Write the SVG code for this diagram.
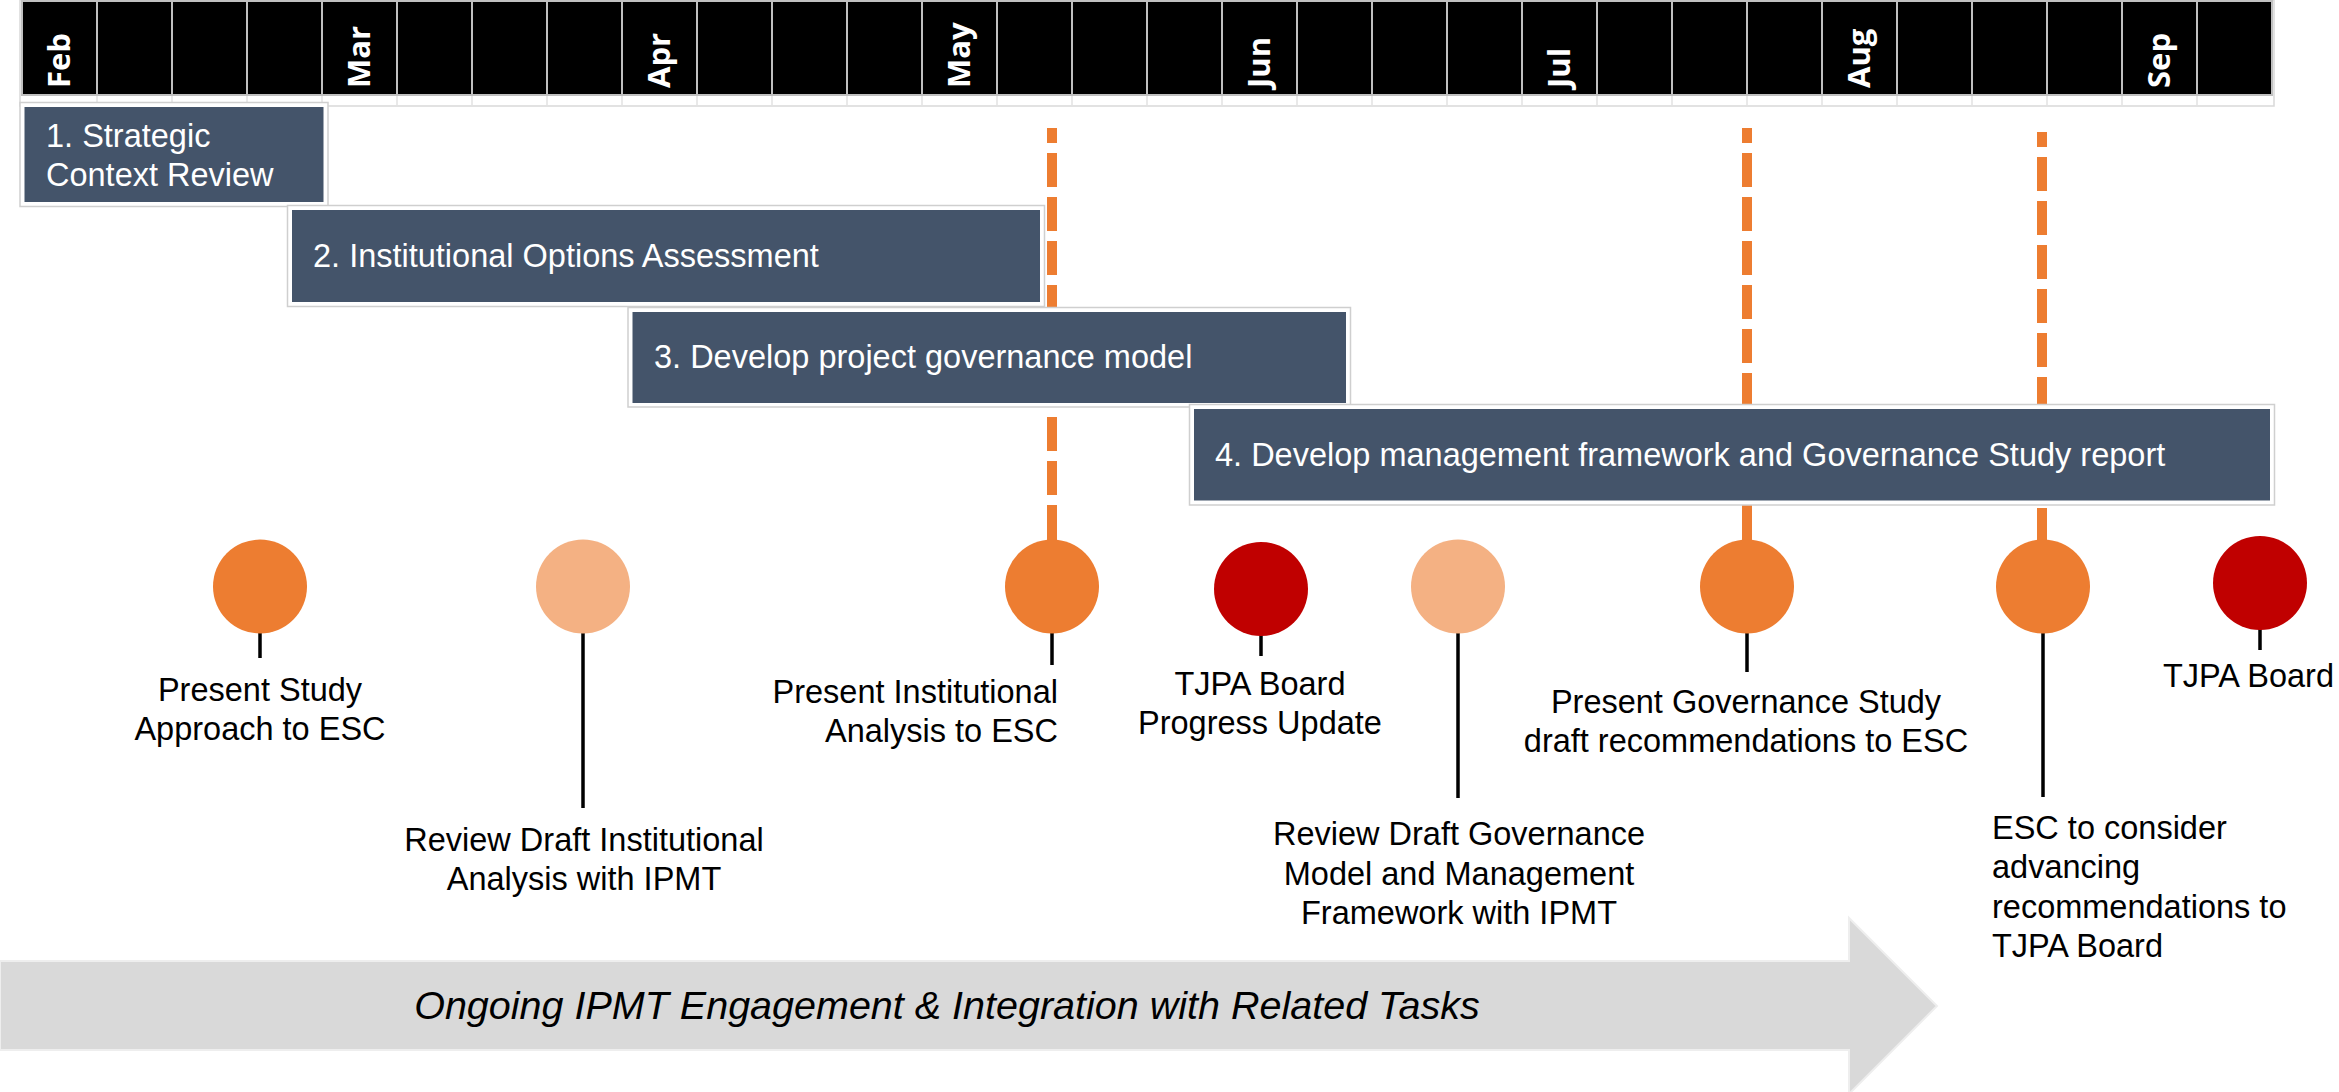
<svg xmlns="http://www.w3.org/2000/svg" width="2339" height="1092" viewBox="0 0 2339 1092">
  <style>
    .cell { fill: #000000; stroke: #c0c0c0; stroke-width: 2; }
    .tick { stroke: #e2e2e2; stroke-width: 1.5; }
    .month { font-family: "Open Sans", "DejaVu Sans", sans-serif; font-weight: bold; font-size: 31px; fill: #ffffff; }
    .frame { fill: #ffffff; stroke: #cfcfcf; stroke-width: 1.5; }
    .bar { fill: #44546a; }
    .bartext { font-family: "Liberation Sans", Arial, sans-serif; font-size: 32.5px; fill: #ffffff; }
    .label { font-family: "Liberation Sans", Arial, sans-serif; font-size: 32.5px; fill: #000000; }
    .stem { stroke: #000000; stroke-width: 3.5; }
    .dash { stroke: #ed7d31; stroke-width: 10; fill: none; stroke-dasharray: 34 10; stroke-dashoffset: 19; }
    .solid { stroke: #ed7d31; stroke-width: 10; }
    .orange { fill: #ed7d31; }
    .light { fill: #f4b183; }
    .red { fill: #c00000; }
  </style>

  <!-- header timeline -->
  <g id="header">
    <rect x="20" y="0" width="2254" height="106" fill="#ffffff" stroke="#d9d9d9" stroke-width="1.5"/>
    <g id="cells">
      <rect class="cell" x="22" y="1" width="75" height="94"/>
      <rect class="cell" x="97" y="1" width="75" height="94"/>
      <rect class="cell" x="172" y="1" width="75" height="94"/>
      <rect class="cell" x="247" y="1" width="75" height="94"/>
      <rect class="cell" x="322" y="1" width="75" height="94"/>
      <rect class="cell" x="397" y="1" width="75" height="94"/>
      <rect class="cell" x="472" y="1" width="75" height="94"/>
      <rect class="cell" x="547" y="1" width="75" height="94"/>
      <rect class="cell" x="622" y="1" width="75" height="94"/>
      <rect class="cell" x="697" y="1" width="75" height="94"/>
      <rect class="cell" x="772" y="1" width="75" height="94"/>
      <rect class="cell" x="847" y="1" width="75" height="94"/>
      <rect class="cell" x="922" y="1" width="75" height="94"/>
      <rect class="cell" x="997" y="1" width="75" height="94"/>
      <rect class="cell" x="1072" y="1" width="75" height="94"/>
      <rect class="cell" x="1147" y="1" width="75" height="94"/>
      <rect class="cell" x="1222" y="1" width="75" height="94"/>
      <rect class="cell" x="1297" y="1" width="75" height="94"/>
      <rect class="cell" x="1372" y="1" width="75" height="94"/>
      <rect class="cell" x="1447" y="1" width="75" height="94"/>
      <rect class="cell" x="1522" y="1" width="75" height="94"/>
      <rect class="cell" x="1597" y="1" width="75" height="94"/>
      <rect class="cell" x="1672" y="1" width="75" height="94"/>
      <rect class="cell" x="1747" y="1" width="75" height="94"/>
      <rect class="cell" x="1822" y="1" width="75" height="94"/>
      <rect class="cell" x="1897" y="1" width="75" height="94"/>
      <rect class="cell" x="1972" y="1" width="75" height="94"/>
      <rect class="cell" x="2047" y="1" width="75" height="94"/>
      <rect class="cell" x="2122" y="1" width="75" height="94"/>
      <rect class="cell" x="2197" y="1" width="75" height="94"/>
    </g>
    <g id="ticks">
      <line class="tick" x1="97" y1="96" x2="97" y2="106"/>
      <line class="tick" x1="172" y1="96" x2="172" y2="106"/>
      <line class="tick" x1="247" y1="96" x2="247" y2="106"/>
      <line class="tick" x1="322" y1="96" x2="322" y2="106"/>
      <line class="tick" x1="397" y1="96" x2="397" y2="106"/>
      <line class="tick" x1="472" y1="96" x2="472" y2="106"/>
      <line class="tick" x1="547" y1="96" x2="547" y2="106"/>
      <line class="tick" x1="622" y1="96" x2="622" y2="106"/>
      <line class="tick" x1="697" y1="96" x2="697" y2="106"/>
      <line class="tick" x1="772" y1="96" x2="772" y2="106"/>
      <line class="tick" x1="847" y1="96" x2="847" y2="106"/>
      <line class="tick" x1="922" y1="96" x2="922" y2="106"/>
      <line class="tick" x1="997" y1="96" x2="997" y2="106"/>
      <line class="tick" x1="1072" y1="96" x2="1072" y2="106"/>
      <line class="tick" x1="1147" y1="96" x2="1147" y2="106"/>
      <line class="tick" x1="1222" y1="96" x2="1222" y2="106"/>
      <line class="tick" x1="1297" y1="96" x2="1297" y2="106"/>
      <line class="tick" x1="1372" y1="96" x2="1372" y2="106"/>
      <line class="tick" x1="1447" y1="96" x2="1447" y2="106"/>
      <line class="tick" x1="1522" y1="96" x2="1522" y2="106"/>
      <line class="tick" x1="1597" y1="96" x2="1597" y2="106"/>
      <line class="tick" x1="1672" y1="96" x2="1672" y2="106"/>
      <line class="tick" x1="1747" y1="96" x2="1747" y2="106"/>
      <line class="tick" x1="1822" y1="96" x2="1822" y2="106"/>
      <line class="tick" x1="1897" y1="96" x2="1897" y2="106"/>
      <line class="tick" x1="1972" y1="96" x2="1972" y2="106"/>
      <line class="tick" x1="2047" y1="96" x2="2047" y2="106"/>
      <line class="tick" x1="2122" y1="96" x2="2122" y2="106"/>
      <line class="tick" x1="2197" y1="96" x2="2197" y2="106"/>
    </g>
    <g id="months">
      <text class="month" transform="translate(70,88) rotate(-90)">Feb</text>
      <text class="month" transform="translate(370,88) rotate(-90)">Mar</text>
      <text class="month" transform="translate(670,88) rotate(-90)">Apr</text>
      <text class="month" transform="translate(970,88) rotate(-90)">May</text>
      <text class="month" transform="translate(1270,88) rotate(-90)">Jun</text>
      <text class="month" transform="translate(1570,88) rotate(-90)">Jul</text>
      <text class="month" transform="translate(1870,88) rotate(-90)">Aug</text>
      <text class="month" transform="translate(2170,88) rotate(-90)">Sep</text>
    </g>
  </g>

  <!-- connectors: orange dashed milestone lines -->
  <g id="connectors">
    <line class="dash" x1="1052" y1="128" x2="1052" y2="541"/>
    <line class="dash" x1="1747" y1="128" x2="1747" y2="541"/>
    <line class="dash" x1="2042" y1="132" x2="2042" y2="541"/>
    <line class="solid" x1="1052" y1="505" x2="1052" y2="545"/>
    <line class="solid" x1="1747" y1="508" x2="1747" y2="545"/>
    <line class="solid" x1="2042" y1="508" x2="2042" y2="545"/>
    <line class="stem" x1="260" y1="630" x2="260" y2="658"/>
    <line class="stem" x1="583" y1="630" x2="583" y2="808"/>
    <line class="stem" x1="1052" y1="630" x2="1052" y2="665"/>
    <line class="stem" x1="1261" y1="632" x2="1261" y2="656"/>
    <line class="stem" x1="1458" y1="630" x2="1458" y2="798"/>
    <line class="stem" x1="1747" y1="630" x2="1747" y2="672"/>
    <line class="stem" x1="2043" y1="630" x2="2043" y2="797"/>
    <line class="stem" x1="2260" y1="627" x2="2260" y2="650"/>
  </g>

  <!-- phase bars -->
  <g id="phase1">
    <rect class="frame" x="20" y="102.5" width="308" height="104"/>
    <rect class="bar" x="24.5" y="107" width="299" height="95"/>
    <text class="bartext" x="46" y="147">1. Strategic</text>
    <text class="bartext" x="46" y="186">Context Review</text>
  </g>
  <g id="phase2">
    <rect class="frame" x="287.5" y="205.5" width="757" height="101"/>
    <rect class="bar" x="292" y="210" width="748" height="92"/>
    <text class="bartext" x="313" y="267">2. Institutional Options Assessment</text>
  </g>
  <g id="phase3">
    <rect class="frame" x="628" y="307.5" width="722.5" height="99.5"/>
    <rect class="bar" x="632.5" y="312" width="713.5" height="91"/>
    <text class="bartext" x="654" y="368">3. Develop project governance model</text>
  </g>
  <g id="phase4">
    <rect class="frame" x="1189.5" y="404.5" width="1085" height="100.5"/>
    <rect class="bar" x="1194" y="409" width="1076" height="91.5"/>
    <text class="bartext" x="1215" y="466">4. Develop management framework and Governance Study report</text>
  </g>

  <!-- milestones -->
  <g id="m1">
    <circle class="orange" cx="260" cy="586.5" r="47"/>
    <text class="label" text-anchor="middle"><tspan x="260" y="701">Present Study</tspan><tspan x="260" y="740">Approach to ESC</tspan></text>
  </g>
  <g id="m2">
    <circle class="light" cx="583" cy="586.5" r="47"/>
    <text class="label" text-anchor="middle"><tspan x="584" y="851">Review Draft Institutional</tspan><tspan x="584" y="890">Analysis with IPMT</tspan></text>
  </g>
  <g id="m3">
    <circle class="orange" cx="1052" cy="586.5" r="47"/>
    <text class="label" text-anchor="end"><tspan x="1058" y="703">Present Institutional</tspan><tspan x="1058" y="742">Analysis to ESC</tspan></text>
  </g>
  <g id="m4">
    <circle class="red" cx="1261" cy="589" r="47"/>
    <text class="label" text-anchor="middle"><tspan x="1260" y="695">TJPA Board</tspan><tspan x="1260" y="734">Progress Update</tspan></text>
  </g>
  <g id="m5">
    <circle class="light" cx="1458" cy="586.5" r="47"/>
    <text class="label" text-anchor="middle"><tspan x="1459" y="845">Review Draft Governance</tspan><tspan x="1459" y="885">Model and Management</tspan><tspan x="1459" y="924">Framework with IPMT</tspan></text>
  </g>
  <g id="m6">
    <circle class="orange" cx="1747" cy="586.5" r="47"/>
    <text class="label" text-anchor="middle"><tspan x="1746" y="713">Present Governance Study</tspan><tspan x="1746" y="752">draft recommendations to ESC</tspan></text>
  </g>
  <g id="m7">
    <circle class="orange" cx="2043" cy="586.5" r="47"/>
    <text class="label"><tspan x="1992" y="839">ESC to consider</tspan><tspan x="1992" y="878">advancing</tspan><tspan x="1992" y="918">recommendations to</tspan><tspan x="1992" y="957">TJPA Board</tspan></text>
  </g>
  <g id="m8">
    <circle class="red" cx="2260" cy="583" r="47"/>
    <text class="label" x="2163" y="687">TJPA Board</text>
  </g>

  <!-- ongoing engagement arrow -->
  <g id="ongoing">
    <polygon points="0,961 1849,961 1849,918 1937,1006 1849,1094 1849,1050 0,1050" fill="#d9d9d9" stroke="#eeeeee" stroke-width="2"/>
    <text x="947" y="1019" text-anchor="middle" font-family="Liberation Sans, Arial, sans-serif" font-style="italic" font-size="39.5" fill="#000000">Ongoing IPMT Engagement &amp; Integration with Related Tasks</text>
  </g>
</svg>
